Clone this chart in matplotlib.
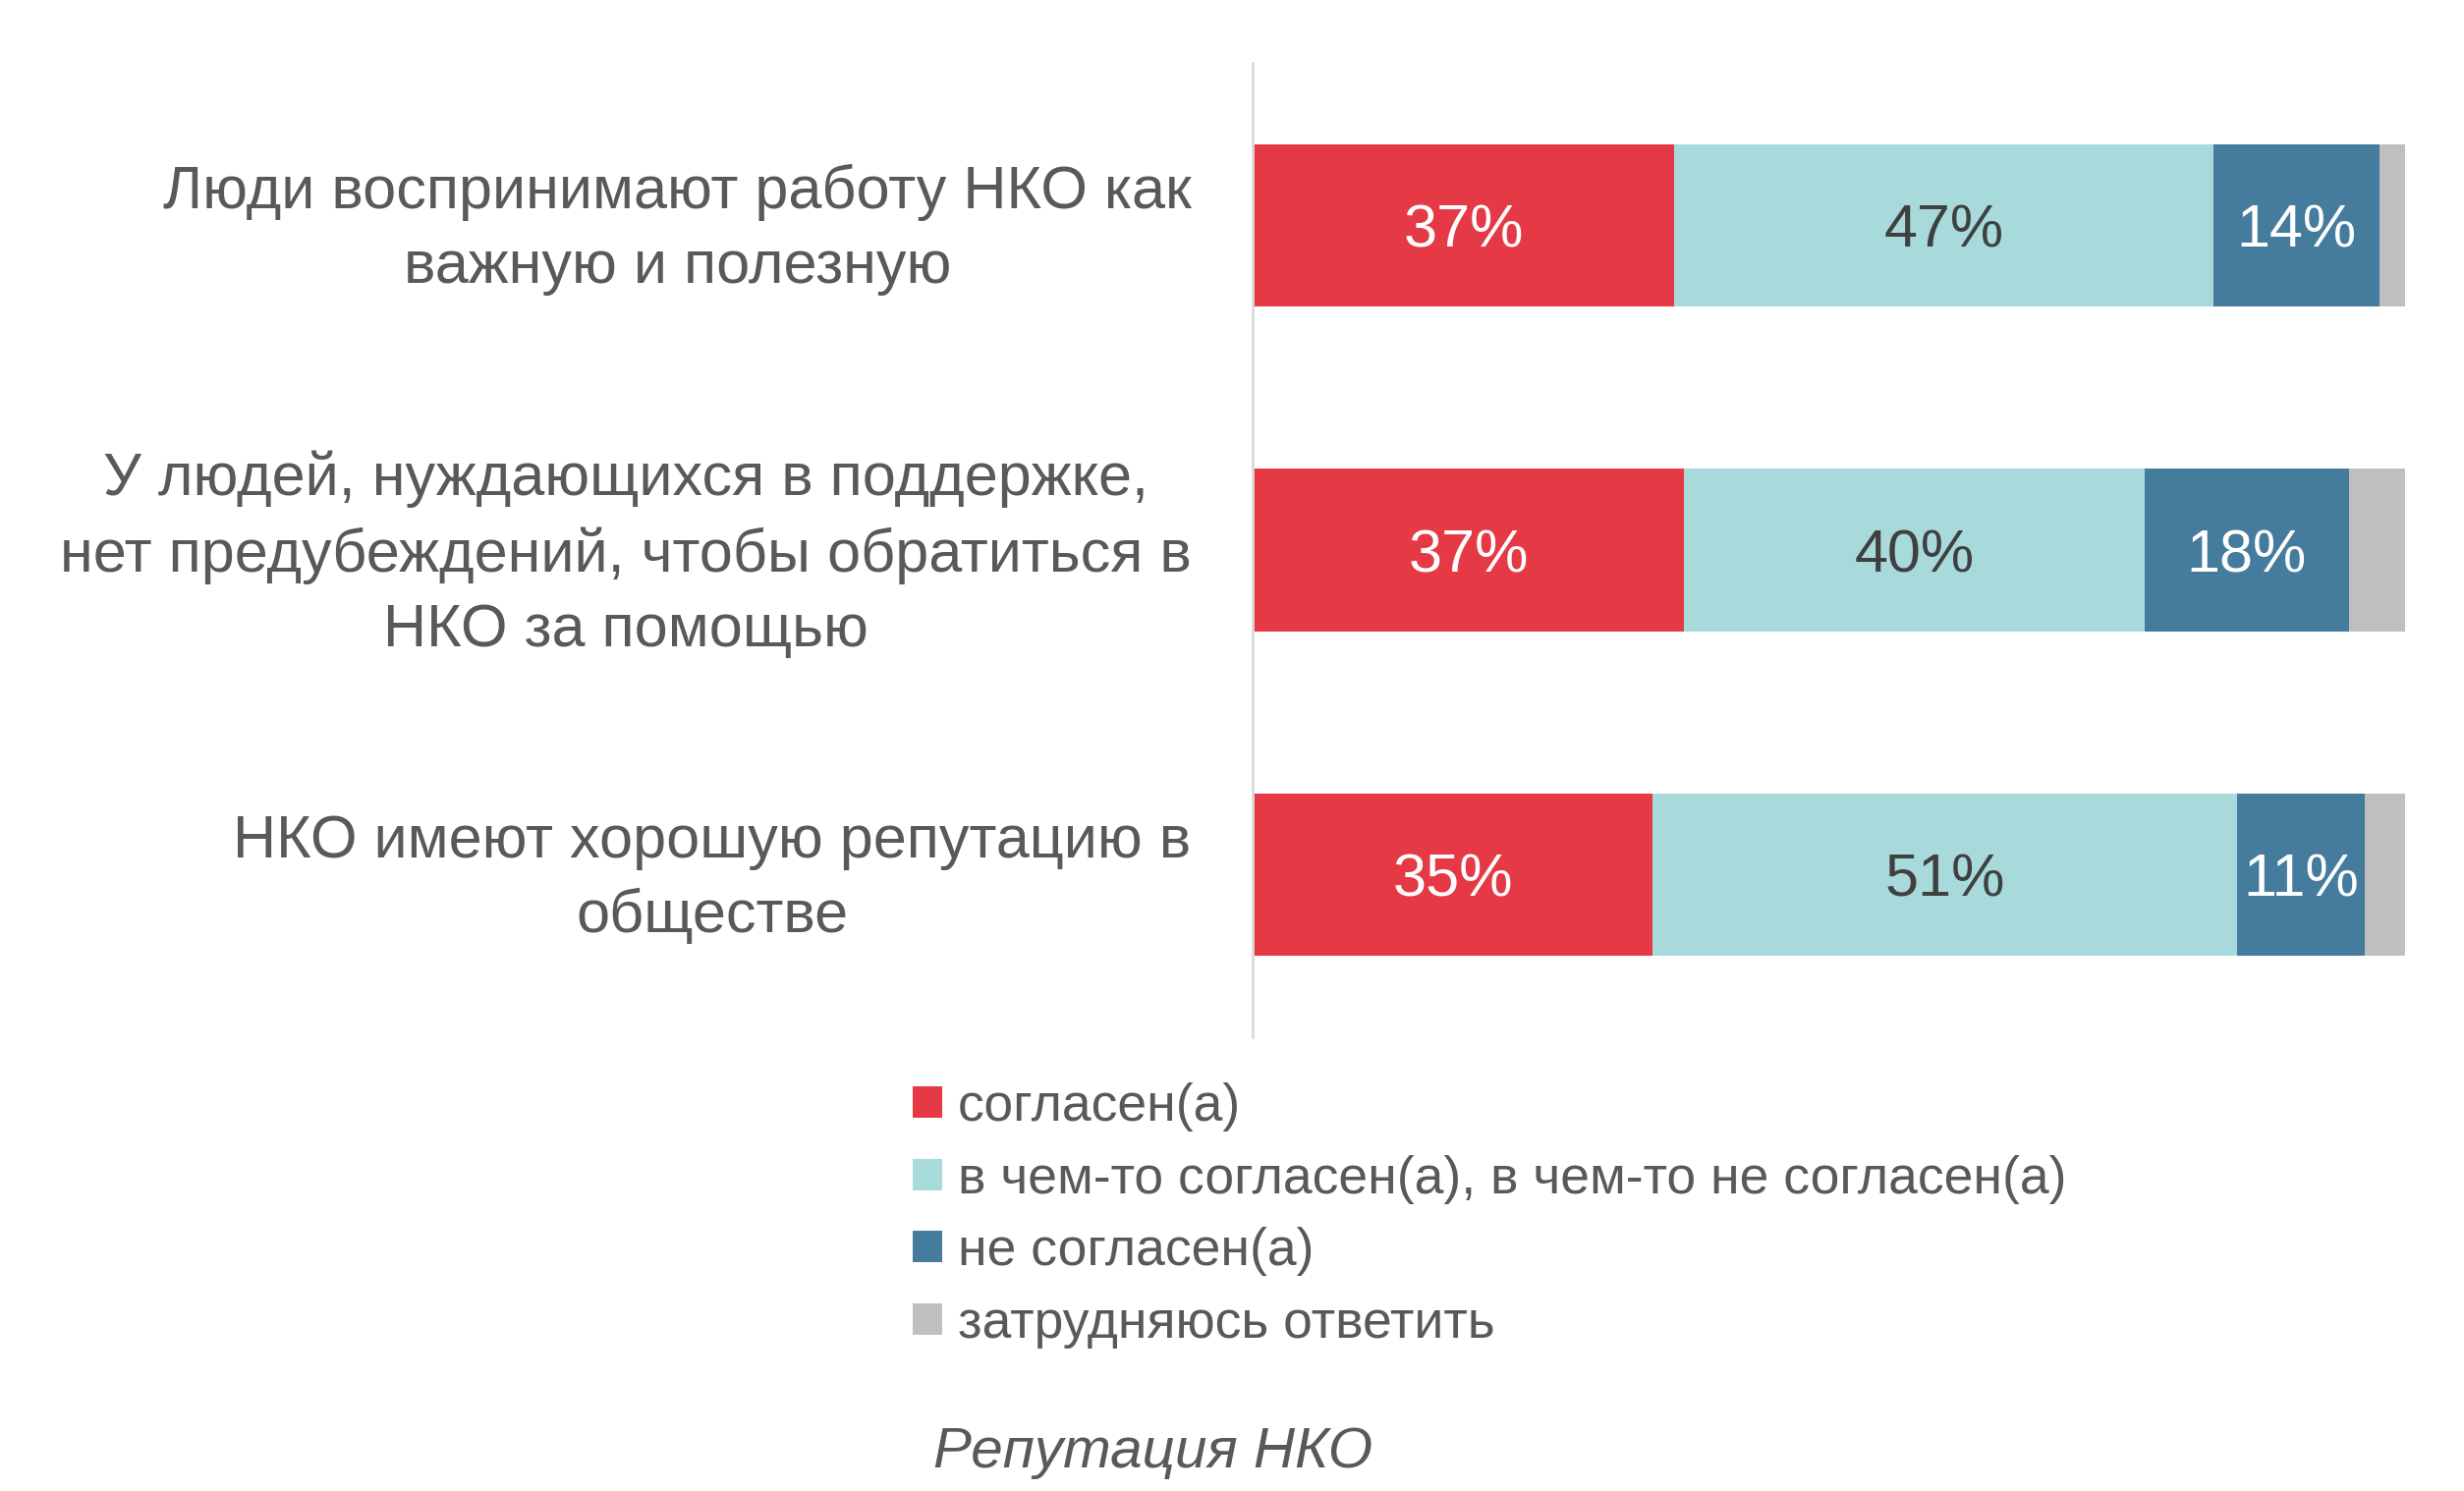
import matplotlib.pyplot as plt
import matplotlib.transforms as mtransforms
from matplotlib.patches import Patch

# data
categories = [
    "Люди воспринимают работу НКО как\nважную и полезную",
    "У людей, нуждающихся в поддержке,\nнет предубеждений, чтобы обратиться в\nНКО за помощью",
    "НКО имеют хорошую репутацию в\nобществе",
]
series_names = [
    "согласен(а)",
    "в чем-то согласен(а), в чем-то не согласен(а)",
    "не согласен(а)",
    "затрудняюсь ответить",
]
agree = [36.6, 37.4, 34.7]
partly = [46.8, 40.0, 50.7]
disagree = [14.4, 17.7, 11.1]
unsure = [2.2, 4.9, 3.5]
title = "Репутация НКО"

COLORS = ["#E63946", "#A8DADC", "#457B9D", "#BFBFBF"]
LABEL_COLORS = ["white", "#404040", "white", None]
TEXT = "#595959"

plt.rcParams["font.family"] = ["Liberation Sans", "DejaVu Sans"]

fig = plt.figure(figsize=(25.08, 15.18), dpi=100)
ax = fig.add_axes([0.5084, 0.3043, 0.4677, 0.6535])

ys = list(range(len(categories)))
left = [0.0] * len(categories)
for vals, color, lc in zip([agree, partly, disagree, unsure], COLORS, LABEL_COLORS):
    ax.barh(ys, vals, left=left, height=0.5, color=color)
    if lc is not None:
        for y, l, v in zip(ys, left, vals):
            ax.text(l + v / 2, y, f"{round(v)}%", ha="center", va="center_baseline",
                    fontsize=44, color=lc)
    left = [l + v for l, v in zip(left, vals)]

ax.set_xlim(0, 100)
ax.set_ylim(len(categories) - 0.5, -0.5)
ax.set_yticks(ys)
ax.set_yticklabels(categories, fontsize=44, color=TEXT, multialignment="center",
                   linespacing=1.42)
ax.tick_params(axis="y", length=0, pad=45)
# nudge the label blocks up a little so they sit centred on the bars
shift = mtransforms.ScaledTranslation(0, 8 / 72, fig.dpi_scale_trans)
for lbl in ax.get_yticklabels():
    lbl.set_transform(lbl.get_transform() + shift)
ax.set_xticks([])
for s in ["top", "right", "bottom"]:
    ax.spines[s].set_visible(False)
ax.spines["left"].set_color("#D9D9D9")
ax.spines["left"].set_linewidth(2)

handles = [Patch(facecolor=c, edgecolor="none") for c in COLORS]
fig.legend(handles, series_names, loc="upper left", bbox_to_anchor=(0.3705, 0.274),
           frameon=False, fontsize=38.5, labelcolor=TEXT, handlelength=0.55,
           handleheight=0.55, handletextpad=0.3, labelspacing=0.44, borderpad=0,
           borderaxespad=0)

fig.text(0.468, 0.016, title, ha="center", va="baseline", fontsize=42,
         style="italic", color=TEXT)

fig.savefig("out.png", dpi=100)
